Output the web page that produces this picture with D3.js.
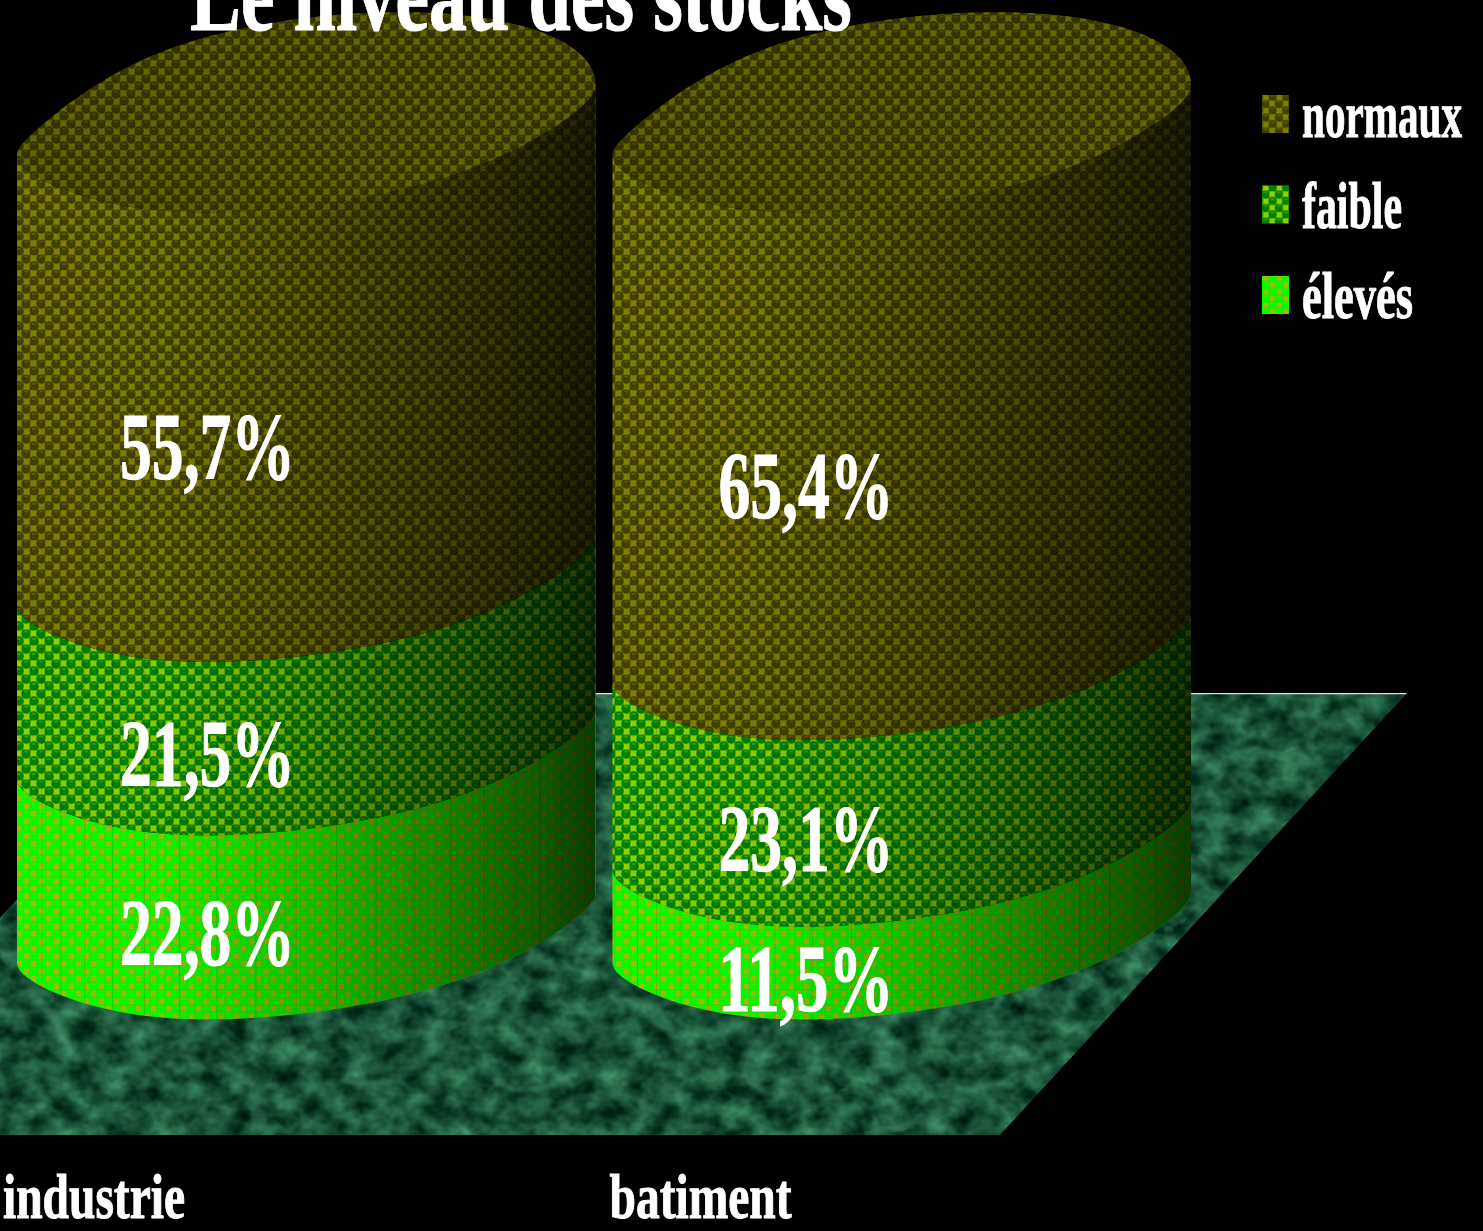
<!DOCTYPE html>
<html>
<head>
<meta charset="utf-8">
<style>
  html, body { margin: 0; padding: 0; background: #000; overflow: hidden; }
  text { font-family: "Liberation Serif", serif; font-weight: bold; fill: #fff; stroke: #fff; stroke-width: 1; }
</style>
<script src="https://cdn.jsdelivr.net/npm/d3@7"></script>
</head>
<body>
<div id="my_dataviz"></div>
<script>
// data
var title = "Le niveau des stocks";
var categories = ["industrie", "batiment"];
var seriesNames = ["élevés", "faible", "normaux"];
var eleves = [22.8, 11.5];
var faible = [21.5, 23.1];
var normaux = [55.7, 65.4];
var legendOrder = ["normaux", "faible", "élevés"];

var width = 1483, height = 1231;

var svg = d3.select("#my_dataviz").append("svg")
    .attr("width", width)
    .attr("height", height)
    .style("display", "block");
var defs = svg.append("defs");

// scales
var x = d3.scaleBand().domain(categories).range([17, 1191]).paddingInner(0.0285).paddingOuter(0);
var y = d3.scaleLinear().domain([0, 100]).range([1020, 213]);

// pattern colours, one per series
var tileColors = {
    "normaux": { square: "#808000", circle: "#404000", shine: "#5c5c00", back: "#6a6a00" },
    "faible": { square: "#8fd000", circle: "#008000", shine: "#30a000", back: "#4da800" },
    "élevés": { square: "#9dc000", circle: "#00ff00", shine: "#50e000", back: "#33e000" }
};

function addPattern(id, c, tile) {
    var p = defs.append("pattern")
        .attr("id", id)
        .attr("patternUnits", "userSpaceOnUse")
        .attr("width", tile)
        .attr("height", tile);
    var h = tile / 2;
    p.append("rect").attr("width", tile).attr("height", tile).attr("fill", c.back);
    p.append("rect").attr("x", h * 0.12).attr("y", h * 0.12).attr("width", h * 0.76).attr("height", h * 0.76).attr("fill", c.square);
    p.append("rect").attr("x", h * 1.12).attr("y", h * 1.12).attr("width", h * 0.76).attr("height", h * 0.76).attr("fill", c.square);
    [[h * 1.5, h * 0.5], [h * 0.5, h * 1.5]].forEach(function (d) {
        p.append("circle").attr("cx", d[0]).attr("cy", d[1]).attr("r", h * 0.66).attr("fill", c.circle);
        p.append("ellipse").attr("cx", d[0]).attr("cy", d[1] - h * 0.3).attr("rx", h * 0.3).attr("ry", h * 0.13).attr("fill", c.shine);
    });
}
seriesNames.forEach(function (name, i) {
    addPattern("fill" + i, tileColors[name], 15);
    addPattern("legend" + i, tileColors[name], 13.5);
});

// side shading goes dark to the right
var shade = defs.append("linearGradient").attr("id", "shade");
[[0, 0], [0.25, 0.03], [0.5, 0.22], [0.7, 0.42], [0.9, 0.62], [1, 0.75]].forEach(function (s) {
    shade.append("stop").attr("offset", s[0]).attr("stop-color", "#000").attr("stop-opacity", s[1]);
});

// marble floor: mottled green plus soft pale veins
var marble = defs.append("filter").attr("id", "marble")
    .attr("x", 0).attr("y", 0).attr("width", 1).attr("height", 1)
    .attr("color-interpolation-filters", "sRGB");
marble.append("feTurbulence")
    .attr("type", "fractalNoise")
    .attr("baseFrequency", "0.04 0.048")
    .attr("numOctaves", 3)
    .attr("seed", 7);
marble.append("feColorMatrix")
    .attr("type", "matrix")
    .attr("values", "0.4 0 0 0 -0.1  0.65 0 0 0 0  0.5 0 0 0 -0.03  0 0 0 0 1");

var veins = defs.append("filter").attr("id", "veins")
    .attr("x", 0).attr("y", 0).attr("width", 1).attr("height", 1)
    .attr("color-interpolation-filters", "sRGB");
veins.append("feTurbulence")
    .attr("type", "turbulence")
    .attr("baseFrequency", "0.008 0.012")
    .attr("numOctaves", 2)
    .attr("seed", 3);
veins.append("feColorMatrix")
    .attr("type", "matrix")
    .attr("values", "0 0 0 0 0.36  0 0 0 0 0.66  0 0 0 0 0.53  -10 0 0 0 1");
veins.append("feGaussianBlur").attr("stdDeviation", 1);

defs.append("clipPath").attr("id", "floorClip")
    .append("path").attr("d", "M207,693 L1407,693 L1000,1135 L-200,1135 Z");

var floor = svg.append("g").attr("clip-path", "url(#floorClip)");
floor.append("rect")
    .attr("x", 0).attr("y", 690).attr("width", 1410).attr("height", 446)
    .attr("filter", "url(#marble)");
floor.append("rect")
    .attr("x", 0).attr("y", 690).attr("width", 1410).attr("height", 446)
    .attr("filter", "url(#veins)")
    .attr("opacity", 0.3);
floor.append("line")
    .attr("x1", 207).attr("x2", 1407).attr("y1", 693.5).attr("y2", 693.5)
    .attr("stroke", "#cfe8da").attr("stroke-width", 1.5);

// tilted ellipse of a cylinder slice, yFront is the lowest point of the slice
var tilt = 35, frontB = 86, backB = 102, centerUp = 93;
function ringPoint(cat, yFront, t) {
    var a = x.bandwidth() / 2;
    var cx = x(cat) + a;
    var c = Math.cos(t), sn = Math.sin(t);
    var b = sn > 0 ? frontB : backB;
    // the outline is a bit flatter than a true ellipse near the ends
    if (sn > 0) b = b * (1 - 0.3 * Math.pow(c, 4));
    else if (c < 0) b = b * (1 - 0.5 * Math.pow(c, 4));
    return [cx + a * c, yFront - centerUp - tilt * c + b * sn];
}
var angleSteps = d3.range(0, 73).map(function (i) { return Math.PI * i / 72; });
var line = d3.line();

function sidePath(cat, yLow, yHigh) {
    var front = angleSteps.map(function (t) { return ringPoint(cat, yLow, t); });
    var upper = angleSteps.slice().reverse().map(function (t) { return ringPoint(cat, yHigh, t); });
    return line(front.concat(upper)) + "Z";
}
function capPath(cat, yFront) {
    var pts = d3.range(0, 144).map(function (i) { return ringPoint(cat, yFront, 2 * Math.PI * i / 144); });
    return line(pts) + "Z";
}

// one cylinder for each category
var stack = d3.stack().keys([0, 1, 2]).value(function (d, k) { return d[k]; });
var rows = categories.map(function (c, i) { return [eleves[i], faible[i], normaux[i]]; });
var layers = stack(rows);
var labelLeft = [103, 106];

categories.forEach(function (cat, i) {
    var g = svg.append("g");

    layers.forEach(function (layer, s) {
        g.append("path")
            .attr("d", sidePath(cat, y(layer[i][0]), y(layer[i][1])))
            .attr("fill", "url(#fill" + s + ")");
    });

    defs.append("clipPath").attr("id", "side" + i)
        .append("path").attr("d", sidePath(cat, y(0), y(100)));
    var over = g.append("g").attr("clip-path", "url(#side" + i + ")");
    over.append("rect")
        .attr("x", x(cat)).attr("y", 0)
        .attr("width", x.bandwidth()).attr("height", height)
        .attr("fill", "url(#shade)");
    // thin facet lines on the curved side
    over.selectAll("line.facet").data(d3.range(6, 40, 2))
        .enter().append("line")
        .attr("x1", function (d) { return x(cat) + x.bandwidth() * (0.5 - 0.5 * Math.cos(Math.PI * d / 45)); })
        .attr("x2", function (d) { return x(cat) + x.bandwidth() * (0.5 - 0.5 * Math.cos(Math.PI * d / 45)); })
        .attr("y1", 0).attr("y2", height)
        .attr("stroke", "#000").attr("stroke-opacity", 0.12);

    g.append("path").attr("d", capPath(cat, y(100))).attr("fill", "url(#fill2)");
    g.append("path").attr("d", capPath(cat, y(100))).attr("fill", "#000").attr("fill-opacity", 0.2);

    // value labels
    layers.forEach(function (layer, s) {
        var v = layer[i][1] - layer[i][0];
        g.append("text")
            .attr("x", x(cat) + labelLeft[i])
            .attr("y", (y(layer[i][0]) + y(layer[i][1])) / 2 + (s === 2 ? 41 : 37))
            .attr("font-size", 96)
            .attr("textLength", 175)
            .attr("lengthAdjust", "spacingAndGlyphs")
            .text(String(v.toFixed(1)).replace(".", ",") + "%");
    });
});

// title, cut by the top of the picture
svg.append("text")
    .attr("x", 190).attr("y", 30)
    .attr("font-size", 104)
    .attr("textLength", 662)
    .attr("lengthAdjust", "spacingAndGlyphs")
    .text(title);

// category axis
var axis = svg.append("g")
    .attr("transform", "translate(0,1135)")
    .call(d3.axisBottom(x).tickSize(0));
axis.select(".domain").remove();
var axisWidths = [182, 182];
axis.selectAll(".tick text")
    .attr("x", function (d, i) { return -x.bandwidth() / 2 - 14 + (i === 0 ? 0 : 11); })
    .attr("y", 83)
    .attr("dy", 0)
    .attr("text-anchor", "start")
    .attr("font-family", "Liberation Serif")
    .attr("font-size", 64)
    .attr("textLength", function (d, i) { return axisWidths[i]; })
    .attr("lengthAdjust", "spacingAndGlyphs");

// legend
var legendY = d3.scalePoint().domain(legendOrder).range([114, 295]);
var legendWidths = { "normaux": 160, "faible": 100, "élevés": 111 };
var legend = svg.append("g").selectAll("g").data(legendOrder).enter().append("g")
    .attr("transform", function (d) { return "translate(0," + legendY(d) + ")"; });
legend.append("rect")
    .attr("x", 1262).attr("y", -19)
    .attr("width", 27).attr("height", 38)
    .attr("fill", function (d) { return "url(#legend" + seriesNames.indexOf(d) + ")"; });
legend.append("text")
    .attr("x", 1302).attr("y", 23)
    .attr("font-size", 66)
    .attr("textLength", function (d) { return legendWidths[d]; })
    .attr("lengthAdjust", "spacingAndGlyphs")
    .text(function (d) { return d; });
</script>
</body>
</html>
